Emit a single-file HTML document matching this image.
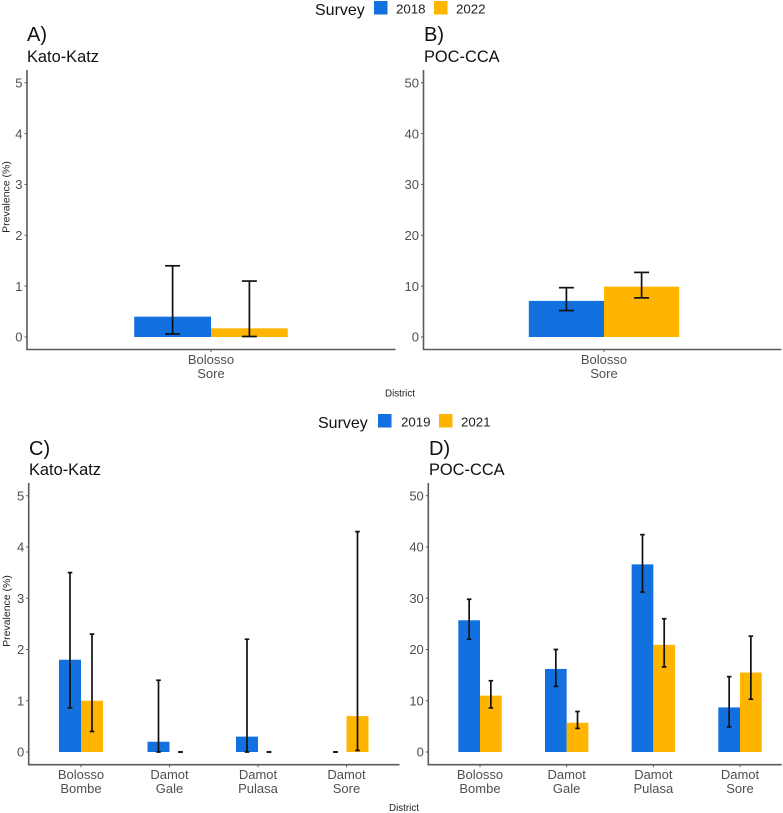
<!DOCTYPE html>
<html lang="en">
<head>
<meta charset="utf-8">
<title>Prevalence by district and survey</title>
<style>
html,body{margin:0;padding:0;background:#fff;}
#chart{display:block;width:783px;height:813px;font-family:"Liberation Sans",Arial,sans-serif;filter:blur(0.3px);}
.tick{font-size:13px;fill:#4f4f4f;}
.panel-tag{font-size:20px;fill:#111;}
.panel-sub{font-size:16.4px;fill:#111;}
.axis-title{font-size:10.5px;fill:#222;}
.legend-title{font-size:16px;fill:#111;}
.legend-label{font-size:13.3px;fill:#222;}
</style>
</head>
<body>
<svg id="chart" xmlns="http://www.w3.org/2000/svg" width="783" height="813" viewBox="0 0 783 813">
  <rect x="0" y="0" width="783" height="813" fill="#fff"/>

  <g>
    <text class="legend-title" x="315" y="15">Survey</text>
    <rect x="374" y="1" width="13.5" height="13.5" fill="#1271df"/>
    <text class="legend-label" x="396" y="13.5">2018</text>
    <rect x="434" y="1" width="13.5" height="13.5" fill="#ffb400"/>
    <text class="legend-label" x="456" y="13.5">2022</text>
  </g>
  <g>
    <text class="legend-title" x="318" y="428">Survey</text>
    <rect x="378" y="414" width="13.5" height="13.5" fill="#1271df"/>
    <text class="legend-label" x="401" y="426.5">2019</text>
    <rect x="439" y="414" width="13.5" height="13.5" fill="#ffb400"/>
    <text class="legend-label" x="461" y="426.5">2021</text>
  </g>

  <text class="panel-tag" x="27" y="41">A)</text>
  <text class="panel-sub" x="27" y="62">Kato-Katz</text>
  <text class="panel-tag" x="424" y="41">B)</text>
  <text class="panel-sub" x="424" y="62">POC-CCA</text>
  <text class="panel-tag" x="29" y="455">C)</text>
  <text class="panel-sub" x="29" y="475">Kato-Katz</text>
  <text class="panel-tag" x="429" y="455">D)</text>
  <text class="panel-sub" x="429" y="475">POC-CCA</text>

  <text class="axis-title" text-anchor="middle" transform="translate(9.5 197) rotate(-90)">Prevalence (%)</text>
  <text class="axis-title" text-anchor="middle" transform="translate(10 611) rotate(-90)">Prevalence (%)</text>
  <text class="axis-title" style="font-size:9.8px" text-anchor="middle" x="400" y="396.5">District</text>
  <text class="axis-title" style="font-size:9.8px" text-anchor="middle" x="404" y="811">District</text>
</svg>

<script>
// ---- Chart data ----
const katoTicks = [0, 1, 2, 3, 4, 5];
const pocTicks = [0, 10, 20, 30, 40, 50];

const topCategories = [["Bolosso", "Sore"]];
const bottomCategories = [["Bolosso", "Bombe"], ["Damot", "Gale"], ["Damot", "Pulasa"], ["Damot", "Sore"]];

const panelA2018 = [0.4];
const panelA2018Low = [0.06];
const panelA2018High = [1.4];
const panelA2022 = [0.17];
const panelA2022Low = [0.01];
const panelA2022High = [1.1];

const panelB2018 = [7.1];
const panelB2018Low = [5.2];
const panelB2018High = [9.7];
const panelB2022 = [9.9];
const panelB2022Low = [7.7];
const panelB2022High = [12.7];

const panelC2019 = [1.8, 0.2, 0.3, 0];
const panelC2019Low = [0.86, 0, 0, 0];
const panelC2019High = [3.5, 1.4, 2.2, 0];
const panelC2021 = [1.0, 0, 0, 0.7];
const panelC2021Low = [0.4, 0, 0, 0.03];
const panelC2021High = [2.3, 0, 0, 4.3];

const panelD2019 = [25.7, 16.2, 36.6, 8.7];
const panelD2019Low = [22, 12.8, 31.2, 4.9];
const panelD2019High = [29.8, 20, 42.4, 14.7];
const panelD2021 = [11, 5.7, 20.9, 15.5];
const panelD2021Low = [8.6, 4.6, 16.6, 10.3];
const panelD2021High = [13.9, 7.9, 26, 22.6];

// ---- Drawing ----
const NS = "http://www.w3.org/2000/svg";
const svg = document.getElementById("chart");
const BLUE = "#1271df";
const ORANGE = "#ffb400";
const AXIS = "#5a5a5a";

function make(tag, attrs, parent) {
  const el = document.createElementNS(NS, tag);
  for (const k in attrs) el.setAttribute(k, attrs[k]);
  parent.appendChild(el);
  return el;
}

function drawPanel(p) {
  const g = make("g", {}, svg);
  
  

  const yScale = v => p.y0 - (v / p.yMax) * (p.y0 - p.yTop);
  const xScale = i => p.xFirst + i * p.xStep;

  // axis lines
  const yAxis = make("line", {x1: p.left, x2: p.left, y1: p.axisTop, y2: p.bottom, stroke: AXIS, "stroke-width": 1.6}, g);
  
  
  const xAxis = make("line", {x1: p.left - 0.8, x2: p.right, y1: p.bottom, y2: p.bottom, stroke: AXIS, "stroke-width": 1.6}, g);
  
  

  // y ticks
  p.ticks.forEach(t => {
    const y = yScale(t);
    const mark = make("line", {x1: p.left - 2.5, x2: p.left, y1: y, y2: y, stroke: AXIS, "stroke-width": 1}, g);
    
    
    const label = make("text", {class: "tick", x: p.left - 4.5, y: y + 4.7, "text-anchor": "end"}, g);
    
    
    label.textContent = t;
  });

  // categories
  p.categories.forEach((lines, i) => {
    const x = xScale(i);
    const mark = make("line", {x1: x, x2: x, y1: p.bottom, y2: p.bottom + 2.5, stroke: AXIS, "stroke-width": 1}, g);
    
    
    lines.forEach((line, j) => {
      const label = make("text", {class: "tick", x: x, y: p.bottom + 14.5 + j * 14, "text-anchor": "middle"}, g);
      
      
      label.textContent = line;
    });
  });

  // bars then error bars for each series
  p.series.forEach((s, k) => {
    s.values.forEach((v, i) => {
      const x = xScale(i) + (k === 0 ? -p.barWidth : 0);
      const yTop = yScale(v);
      if (v > 0) {
        const bar = make("rect", {x: x, y: yTop, width: p.barWidth, height: p.y0 - yTop, fill: s.color}, g);
        
        
      }
    });
  });
  p.series.forEach((s, k) => {
    s.values.forEach((v, i) => {
      const cx = xScale(i) + (k === 0 ? -p.barWidth / 2 : p.barWidth / 2);
      const lo = yScale(s.low[i]);
      const hi = yScale(s.high[i]);
      const err = make("g", {stroke: "#111", "stroke-width": 1.7}, g);
      
      
      make("line", {x1: cx, x2: cx, y1: lo, y2: hi}, err);
      make("line", {x1: cx - p.capHalf, x2: cx + p.capHalf, y1: hi, y2: hi}, err);
      make("line", {x1: cx - p.capHalf, x2: cx + p.capHalf, y1: lo, y2: lo}, err);
    });
  });
}

drawPanel({
  id: "panel-a", left: 27, right: 395.5, axisTop: 70, bottom: 349.5, y0: 337, yTop: 82.7, yMax: 5,
  ticks: katoTicks, categories: topCategories, xFirst: 211, xStep: 0, barWidth: 76.8, capHalf: 7.5,
  series: [
    {values: panelA2018, low: panelA2018Low, high: panelA2018High, color: BLUE},
    {values: panelA2022, low: panelA2022Low, high: panelA2022High, color: ORANGE}
  ]
});
drawPanel({
  id: "panel-b", left: 423.5, right: 781.5, axisTop: 70, bottom: 349.5, y0: 337, yTop: 82.7, yMax: 50,
  ticks: pocTicks, categories: topCategories, xFirst: 604, xStep: 0, barWidth: 75.2, capHalf: 7.5,
  series: [
    {values: panelB2018, low: panelB2018Low, high: panelB2018High, color: BLUE},
    {values: panelB2022, low: panelB2022Low, high: panelB2022High, color: ORANGE}
  ]
});
drawPanel({
  id: "panel-c", left: 28.7, right: 399.5, axisTop: 483, bottom: 764.7, y0: 752, yTop: 495.7, yMax: 5,
  ticks: katoTicks, categories: bottomCategories, xFirst: 81, xStep: 88.5, barWidth: 22, capHalf: 2.3,
  series: [
    {values: panelC2019, low: panelC2019Low, high: panelC2019High, color: BLUE},
    {values: panelC2021, low: panelC2021Low, high: panelC2021High, color: ORANGE}
  ]
});
drawPanel({
  id: "panel-d", left: 428.3, right: 781.7, axisTop: 483, bottom: 764.7, y0: 752, yTop: 495.7, yMax: 50,
  ticks: pocTicks, categories: bottomCategories, xFirst: 480, xStep: 86.67, barWidth: 21.7, capHalf: 2.3,
  series: [
    {values: panelD2019, low: panelD2019Low, high: panelD2019High, color: BLUE},
    {values: panelD2021, low: panelD2021Low, high: panelD2021High, color: ORANGE}
  ]
});
</script>
</body>
</html>
